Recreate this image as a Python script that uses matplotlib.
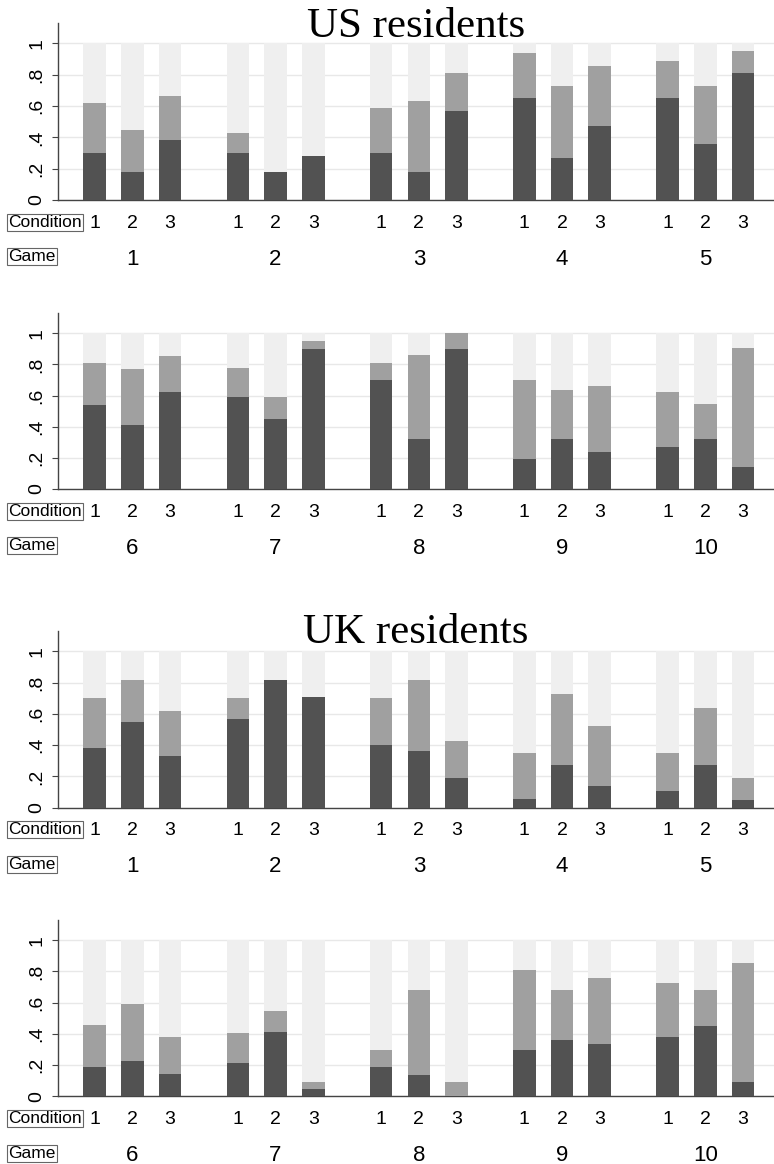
import numpy as np
import matplotlib
matplotlib.use("Agg")
import matplotlib.pyplot as plt

plt.rcParams["font.family"] = ["Liberation Sans", "DejaVu Sans"]

conditions = ["1", "2", "3"]
games_top = ["1", "2", "3", "4", "5"]
games_bottom = ["6", "7", "8", "9", "10"]

# share in the dark segment, per game (rows) and condition (columns)
us_dark = [
    [0.30, 0.18, 0.38], [0.30, 0.18, 0.28], [0.30, 0.18, 0.57],
    [0.65, 0.27, 0.47], [0.65, 0.36, 0.81],
    [0.54, 0.41, 0.62], [0.59, 0.45, 0.90], [0.70, 0.32, 0.90],
    [0.19, 0.32, 0.24], [0.27, 0.32, 0.14],
]
# top of the mid-grey segment (dark + mid)
us_top = [
    [0.62, 0.45, 0.665], [0.43, 0.18, 0.28], [0.59, 0.635, 0.81],
    [0.94, 0.725, 0.855], [0.89, 0.725, 0.95],
    [0.81, 0.77, 0.857], [0.78, 0.59, 0.95], [0.81, 0.86, 1.0],
    [0.70, 0.636, 0.664], [0.62, 0.545, 0.905],
]
uk_dark = [
    [0.38, 0.545, 0.333], [0.568, 0.816, 0.711], [0.404, 0.361, 0.19],
    [0.053, 0.271, 0.141], [0.107, 0.271, 0.047],
    [0.19, 0.226, 0.143], [0.216, 0.41, 0.047], [0.19, 0.137, 0.0],
    [0.295, 0.363, 0.333], [0.378, 0.453, 0.094],
]
uk_top = [
    [0.70, 0.816, 0.617], [0.70, 0.816, 0.711], [0.70, 0.816, 0.425],
    [0.348, 0.726, 0.521], [0.348, 0.635, 0.188],
    [0.457, 0.59, 0.38], [0.404, 0.545, 0.094], [0.295, 0.682, 0.094],
    [0.81, 0.682, 0.761], [0.729, 0.682, 0.857],
]

DARK, MID, LIGHT = "#525252", "#a0a0a0", "#efefef"
GAP = 3.8  # spacing between game groups, in bar slots

fig = plt.figure(figsize=(7.74, 11.64), dpi=100)

# axes boxes: [left, bottom, width, height] in figure fraction
boxes = [
    [0.0749, 0.8282, 0.9251, 0.1520],
    [0.0749, 0.5799, 0.9251, 0.1512],
    [0.0749, 0.3061, 0.9251, 0.1518],
    [0.0749, 0.0582, 0.9251, 0.1514],
]
panels = [
    (us_dark[:5], us_top[:5], games_top),
    (us_dark[5:], us_top[5:], games_bottom),
    (uk_dark[:5], uk_top[:5], games_top),
    (uk_dark[5:], uk_top[5:], games_bottom),
]

for box, (dark, top, games) in zip(boxes, panels):
    ax = fig.add_axes(box)
    dark = np.array(dark)
    top = np.array(top)
    xs = np.array([[g * GAP + c for c in range(3)] for g in range(len(games))])
    x = xs.ravel()
    d = dark.ravel()
    t = top.ravel()
    ax.bar(x, d, width=0.6, color=DARK, zorder=3)
    ax.bar(x, t - d, bottom=d, width=0.6, color=MID, zorder=3)
    ax.bar(x, 1 - t, bottom=t, width=0.6, color=LIGHT, zorder=3)

    ax.set_xlim(-0.97, 18.02)
    ax.set_ylim(0, 1.13)
    ax.set_yticks([0, 0.2, 0.4, 0.6, 0.8, 1.0])
    ax.set_yticklabels(["0", ".2", ".4", ".6", ".8", "1"], rotation=90,
                       va="center", fontsize=14)
    ax.grid(axis="y", color="#e8e8e8", linewidth=1, zorder=0)
    ax.set_axisbelow(True)
    ax.tick_params(axis="y", length=4, width=0.8, pad=5, color="#444444")

    ax.set_xticks(x)
    ax.set_xticklabels(conditions * len(games), fontsize=14)
    ax.tick_params(axis="x", length=0, pad=10.5)

    for sp in ["top", "right"]:
        ax.spines[sp].set_visible(False)
    for sp in ["left", "bottom"]:
        ax.spines[sp].set_color("#444444")
        ax.spines[sp].set_linewidth(1)

    for g, name in enumerate(games):
        ax.annotate(name, xy=(xs[g, 1], 0), xycoords=("data", "axes fraction"),
                    xytext=(0, -42.5), textcoords="offset points",
                    ha="center", va="center", fontsize=16)

    # row captions at the far left
    ax.annotate("Condition", xy=(7 / 774, 0), xycoords=("figure fraction", "axes fraction"),
                xytext=(1, -16), textcoords="offset points", ha="left", va="center",
                fontsize=12.5, bbox=dict(boxstyle="square,pad=0.06", fc="white",
                                         ec="#666666", lw=0.8))
    ax.annotate("Game", xy=(7 / 774, 0), xycoords=("figure fraction", "axes fraction"),
                xytext=(1, -41), textcoords="offset points", ha="left", va="center",
                fontsize=12.5, bbox=dict(boxstyle="square,pad=0.06", fc="white",
                                         ec="#666666", lw=0.8))

cx = 0.0749 + 0.9251 / 2
fig.text(cx, 1 - 37 / 1164, "US residents", ha="center", va="baseline",
         fontsize=31, family=["Liberation Serif", "DejaVu Serif"])
fig.text(cx, 1 - 643 / 1164, "UK residents", ha="center", va="baseline",
         fontsize=31, family=["Liberation Serif", "DejaVu Serif"])

fig.savefig("out.png", dpi=100)
